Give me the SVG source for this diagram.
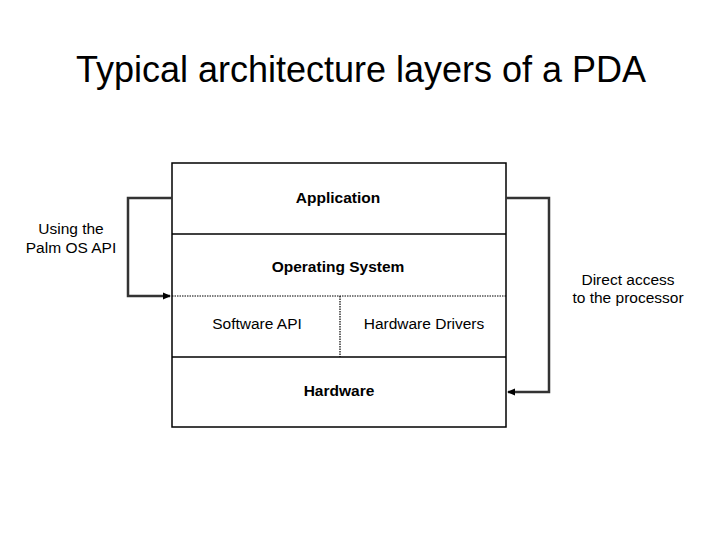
<svg xmlns="http://www.w3.org/2000/svg" width="720" height="540" viewBox="0 0 720 540">
<defs>
<style>
text{font-family:"Liberation Sans",Arial,sans-serif;fill:#000;text-anchor:middle}
.t{font-size:36px}
.b{font-size:15.5px;font-weight:bold}
.n{font-size:15.5px}
.l{font-size:15.5px}
.box{fill:#fff;stroke:#000;stroke-width:1.5}
.sep{stroke:#000;stroke-width:1.5}
.dot{stroke:#000;stroke-width:1.2;stroke-dasharray:1.5 1}
.conn{fill:none;stroke:#333;stroke-width:2.5}
</style>
<marker id="ah" markerWidth="8" markerHeight="8" refX="7" refY="4" orient="auto" markerUnits="userSpaceOnUse">
<path d="M0,0.5 L8,4 L0,7.5 Z" fill="#000"/>
</marker>
</defs>
<rect width="720" height="540" fill="#fff"/>
<text class="t" x="361" y="82">Typical architecture layers of a PDA</text>
<g id="stack">
<rect class="box" x="172" y="163" width="334" height="264"/>
</g>
<g id="application">
<text class="b" x="338" y="203">Application</text>
</g>
<g id="os">
<line class="sep" x1="172" y1="234" x2="506" y2="234"/>
<text class="b" x="338" y="272">Operating System</text>
</g>
<g id="software-api">
<line class="dot" x1="172" y1="296" x2="506" y2="296"/>
<text class="n" x="257" y="329">Software API</text>
</g>
<g id="hardware-drivers">
<line class="dot" x1="340" y1="296" x2="340" y2="357"/>
<text class="n" x="424" y="329">Hardware Drivers</text>
</g>
<g id="hardware">
<line class="sep" x1="172" y1="357" x2="506" y2="357"/>
<text class="b" x="339" y="396">Hardware</text>
</g>
<g id="connectors">
<path class="conn" d="M172,198 H128 V296 H170" marker-end="url(#ah)"/>
<path class="conn" d="M506,198 H549 V392 H508" marker-end="url(#ah)"/>
</g>
<g id="labels">
<text class="l" x="71" y="234">Using the</text>
<text class="l" x="71" y="253">Palm OS API</text>
<text class="l" x="628" y="285">Direct access</text>
<text class="l" x="628" y="303">to the processor</text>
</g>
</svg>
